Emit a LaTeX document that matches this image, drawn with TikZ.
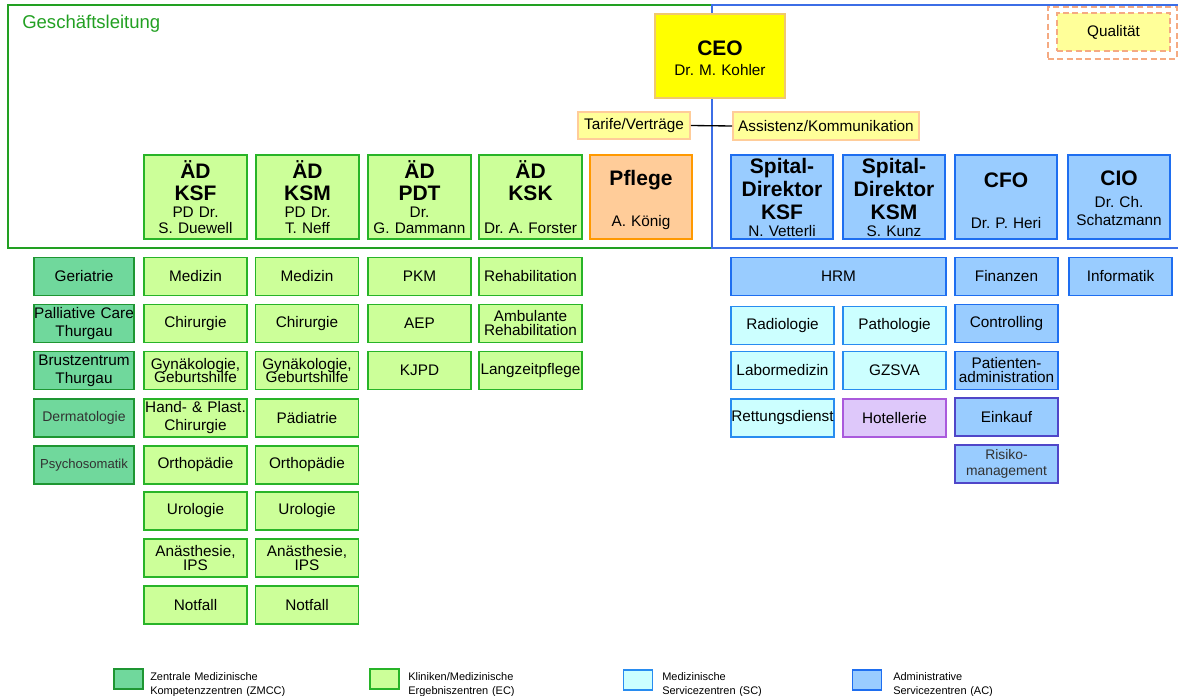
\documentclass[tikz,border=0pt]{standalone}
\usepackage{fontspec}
\setmainfont{Liberation Sans}
\definecolor{gframe}{RGB}{34,160,34}
\definecolor{bframe}{RGB}{60,110,230}
\definecolor{ecfill}{RGB}{204,255,153}
\definecolor{ecdraw}{RGB}{40,180,40}
\definecolor{zmfill}{RGB}{112,216,156}
\definecolor{zmdraw}{RGB}{30,150,50}
\definecolor{acfill}{RGB}{153,204,255}
\definecolor{acdraw}{RGB}{30,110,240}
\definecolor{scfill}{RGB}{204,255,255}
\definecolor{scdraw}{RGB}{40,140,240}
\definecolor{hofill}{RGB}{222,200,250}
\definecolor{hodraw}{RGB}{170,90,220}
\definecolor{vidraw}{RGB}{80,70,200}
\definecolor{pffill}{RGB}{255,204,153}
\definecolor{pfdraw}{RGB}{255,153,0}
\definecolor{ceofill}{RGB}{255,255,0}
\definecolor{ceodraw}{RGB}{240,200,110}
\definecolor{ylfill}{RGB}{255,255,153}
\definecolor{yldraw}{RGB}{255,204,153}
\definecolor{qdraw}{RGB}{245,170,130}
\definecolor{dtext}{RGB}{50,50,50}
\newcommand\hdf[1]{\fontsize{15.75}{#1}\selectfont\bfseries}
\newcommand\nmf[1]{\fontsize{11.5}{#1}\selectfont\mdseries}
\tikzset{
  base/.style={rectangle, inner xsep=-4pt, inner ysep=0pt, align=center, text=black,
    font=\fontsize{11.5}{12}\selectfont,
    execute at begin node={\lineskiplimit=-100pt\hyphenpenalty=10000\exhyphenpenalty=10000\frenchspacing}},
  bw/.style 2 args={minimum width=#1pt, text width=#2pt},
  topbox/.style={base, minimum height=63pt, line width=1.5pt},
  lowbox/.style={base, minimum height=28.5pt, line width=1.3pt},
  ec/.style={fill=ecfill, draw=ecdraw},
  zm/.style={fill=zmfill, draw=zmdraw},
  ac/.style={fill=acfill, draw=acdraw},
  sc/.style={fill=scfill, draw=scdraw},
  ho/.style={fill=hofill, draw=hodraw},
  pf/.style={fill=pffill, draw=pfdraw},
  yl/.style={base, fill=ylfill, draw=yldraw, line width=1.2pt},
  c103/.style={bw={77.25}{85.25}},
  c100/.style={bw={75}{83}},
  legbox/.style={minimum width=21.75pt, minimum height=15pt, line width=1.2pt, inner sep=0pt},
  legtext/.style={anchor=west, inner sep=0pt, text width=150pt, align=left,
    font=\fontsize{8.25}{10.5}\selectfont},
}
\begin{document}
\begin{tikzpicture}[x=0.75pt, y=-0.75pt]
\useasboundingbox (0,0) rectangle (1178,696);
\fill[white] (0,0) rectangle (1178,696);
% frames
\draw[gframe, line width=1.5pt] (8,5) rectangle (712,248);
\draw[bframe, line width=1.5pt] (1178,5) -- (712,5) -- (712,248) -- (1178,248);
\node[anchor=west, inner sep=0pt, text=gframe, font=\fontsize{13.9}{14}\selectfont] (gl) at (22,24) {Geschäftsleitung};
% CEO and staff
\node[base, bw={97.5}{105.5}, minimum height=63pt, fill=ceofill, draw=ceodraw, line width=1.5pt] (ceo) at (720,56) {\hdf{15}\rule{0pt}{14.4pt}CEO\\\nmf{15}Dr. M. Kohler\par};
\node[yl, bw={84}{92}, minimum height=20.25pt] (tar) at (634,125.5) {Tarife/Verträge};
\node[yl, bw={139.5}{147.5}, minimum height=21pt] (ass) at (826,126) {Assistenz/Kommunikation};
\draw[line width=1pt] (tar.east) -- (ass.west);
\node[draw=qdraw, dashed, dash pattern=on 4.5pt off 2.5pt, line width=1.2pt, minimum width=96.75pt, minimum height=39pt, inner sep=0pt] (qout) at (1112.5,33) {};
\node[base, bw={84.75}{92.75}, minimum height=28.5pt, fill=ylfill, draw=qdraw, dash pattern=on 4.5pt off 2.5pt, line width=1.2pt] (qual) at (1113.5,32) {Qualität};
% top row
\node[topbox, ec, c103] (ksf) at (195.5,197) {\hdf{16.5}ÄD\\KSF\\\nmf{12.75}PD Dr.\\\nmf{12}S. Duewell\par};
\node[topbox, ec, c103] (ksm) at (307.5,197) {\hdf{16.5}ÄD\\KSM\\\nmf{12.75}PD Dr.\\\nmf{12}T. Neff\par};
\node[topbox, ec, c103] (pdt) at (419.5,197) {\hdf{16.5}ÄD\\PDT\\\nmf{12.75}Dr.\\\nmf{12}G. Dammann\par};
\node[topbox, ec, c103] (ksk) at (530.5,197) {\hdf{16.5}ÄD\\KSK\\\nmf{24.75}Dr. A. Forster\par};
\node[topbox, pf, bw={76.5}{84.5}] (pfl) at (641,197) {\hdf{16.5}\rule{0pt}{16pt}Pflege\\\nmf{30.75}A. König\par};
\node[topbox, ac, bw={76.5}{84.5}] (skd) at (782,197) {\hdf{17.25}Spital-\\Direktor\\KSF\\\nmf{12.75}N. Vetterli\par};
\node[topbox, ac, bw={76.5}{84.5}] (skm) at (894,197) {\hdf{17.25}Spital-\\Direktor\\KSM\\\nmf{12.75}S. Kunz\par};
\node[topbox, ac, bw={76.5}{84.5}] (cfo) at (1006,197) {\hdf{16.5}\rule{0pt}{16pt}CFO\\\nmf{30.75}Dr. P. Heri\par};
\node[topbox, ac, bw={76.5}{84.5}] (cio) at (1119,197) {\hdf{16.5}\rule{0pt}{13.5pt}CIO\\\nmf{16.5}Dr. Ch.\\\nmf{13.5}Schatzmann\par};
% ZMCC column
\node[lowbox, zm, c100] (ger) at (84,276.5) {Geriatrie};
\node[lowbox, zm, c100] (pal) at (84,323.5) {\nmf{13.5}Palliative Care\\Thurgau\par};
\node[lowbox, zm, c100] (bru) at (84,370.5) {\nmf{13.5}Brustzentrum\\Thurgau\par};
\node[lowbox, zm, c100, text=dtext] (der) at (84,418) {\fontsize{10.5}{12}\selectfont Dermatologie};
\node[lowbox, zm, c100, text=dtext] (psy) at (84,465) {\fontsize{9.8}{12}\selectfont Psychosomatik};
% EC column KSF
\node[lowbox, ec, c103] (med1) at (195.5,276.5) {Medizin};
\node[lowbox, ec, c103] (chi1) at (195.5,323.5) {Chirurgie};
\node[lowbox, ec, c103] (gyn1) at (195.5,370.5) {\nmf{10}Gynäkologie,\\Geburtshilfe\par};
\node[lowbox, ec, c103] (han1) at (195.5,418) {\nmf{13.5}Hand- \& Plast.\\Chirurgie\par};
\node[lowbox, ec, c103] (ort1) at (195.5,465) {Orthopädie};
\node[lowbox, ec, c103] (uro1) at (195.5,511) {Urologie};
\node[lowbox, ec, c103] (ana1) at (195.5,558) {\nmf{10.5}Anästhesie,\\IPS\par};
\node[lowbox, ec, c103] (not1) at (195.5,605) {Notfall};
% EC column KSM
\node[lowbox, ec, c103] (med2) at (307,276.5) {Medizin};
\node[lowbox, ec, c103] (chi2) at (307,323.5) {Chirurgie};
\node[lowbox, ec, c103] (gyn2) at (307,370.5) {\nmf{10}Gynäkologie,\\Geburtshilfe\par};
\node[lowbox, ec, c103] (pae2) at (307,418) {Pädiatrie};
\node[lowbox, ec, c103] (ort2) at (307,465) {Orthopädie};
\node[lowbox, ec, c103] (uro2) at (307,511) {Urologie};
\node[lowbox, ec, c103] (ana2) at (307,558) {\nmf{10.5}Anästhesie,\\IPS\par};
\node[lowbox, ec, c103] (not2) at (307,605) {Notfall};
% PDT
\node[lowbox, ec, c103] (pkm) at (419.5,276.5) {PKM};
\node[lowbox, ec, c103] (aep) at (419.5,323.5) {AEP};
\node[lowbox, ec, c103] (kjp) at (419.5,370.5) {KJPD};
% KSK
\node[lowbox, ec, c103] (reh) at (530.5,276.5) {Rehabilitation};
\node[lowbox, ec, c103] (amb) at (530.5,323.5) {\nmf{10.5}Ambulante\\Rehabilitation\par};
\node[lowbox, ec, c103] (lan) at (530.5,370.5) {Langzeitpflege};
% right side
\node[lowbox, ac, bw={161.25}{169.25}] (hrm) at (838.5,276.5) {HRM};
\node[lowbox, ac, c103] (fin) at (1006.5,276.5) {Finanzen};
\node[lowbox, ac, c103] (inf) at (1120.5,276.5) {Informatik};
\node[lowbox, sc, c103] (rad) at (782.5,325.5) {Radiologie};
\node[lowbox, sc, c103] (pat) at (894.5,325.5) {Pathologie};
\node[lowbox, ac, c103] (con) at (1006.5,323.5) {Controlling};
\node[lowbox, sc, c103] (lab) at (782.5,370.5) {Labormedizin};
\node[lowbox, sc, c103] (gzs) at (894.5,370.5) {GZSVA};
\node[lowbox, ac, c103] (pad) at (1006.5,370.5) {\nmf{10.5}Patienten-\\administration\par};
\node[lowbox, sc, c103] (ret) at (782.5,418) {Rettungsdienst};
\node[lowbox, ho, c103] (hot) at (894.5,418) {Hotellerie};
\node[lowbox, ac, c103, draw=vidraw] (ein) at (1006.5,417) {Einkauf};
\node[lowbox, ac, c103, draw=vidraw, text=dtext] (ris) at (1006.5,464) {\fontsize{10.4}{12}\selectfont Risiko-\\management\par};
% legend
\node[legbox, zm] (l1) at (128.5,679) {};
\node[legtext] (lt1) at (150,685) {Zentrale Medizinische\\Kompetenzzentren (ZMCC)};
\node[legbox, ec] (l2) at (384.5,679) {};
\node[legtext] (lt2) at (408,685) {Kliniken/Medizinische\\Ergebniszentren (EC)};
\node[legbox, sc] (l3) at (638,680) {};
\node[legtext] (lt3) at (662,685) {Medizinische\\Servicezentren (SC)};
\node[legbox, ac] (l4) at (867,680) {};
\node[legtext] (lt4) at (893,685) {Administrative\\Servicezentren (AC)};
\end{tikzpicture}
\end{document}
